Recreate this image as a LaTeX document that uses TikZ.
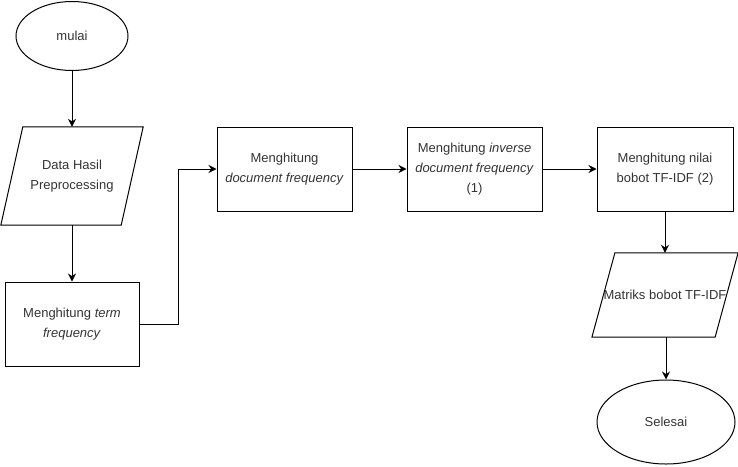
\documentclass[tikz,border=0pt]{standalone}
\usepackage{fontspec}
\setmainfont{Liberation Sans}
\usetikzlibrary{shapes.geometric,arrows.meta}
\definecolor{txt}{HTML}{333333}
\begin{document}
\begin{tikzpicture}[x=1pt,y=-1pt,
  every node/.style={font=\fontsize{13}{20}\selectfont, text=txt, align=center, inner sep=0pt},
  oval/.style={draw, ellipse, line width=1pt},
  box/.style={draw, rectangle, line width=1pt},
  io/.style={rectangle},
  link/.style={line width=1pt, -{Stealth[length=8pt,width=8pt]}},
  plainlink/.style={line width=1pt}]
\useasboundingbox (0,0) rectangle (738,466);
\node[oval, minimum width=112, minimum height=69] (mulai) at (72,36) {mulai};
% Data Hasil Preprocessing
\node[io, minimum width=120, minimum height=98] (data) at (72,176) {Data Hasil\\Preprocessing};
\draw[line width=1pt] ([xshift=11]data.north west) -- ([xshift=11]data.north east) -- ([xshift=-11]data.south east) -- ([xshift=-11]data.south west) -- cycle;
\node[box, minimum width=134, minimum height=84] (term) at (72,324) {Menghitung \textit{term}\\\textit{frequency}};
\node[box, minimum width=135, minimum height=84] (df) at (284.5,169) {Menghitung\\\textit{document frequency}};
\node[box, minimum width=135, minimum height=84] (idf) at (474.5,169) {Menghitung \textit{inverse}\\\textit{document frequency}\\(1)};
\node[box, minimum width=136, minimum height=84] (tfidf) at (665,169) {Menghitung nilai\\bobot TF-IDF (2)};
% Matriks bobot TF-IDF
\node[io, minimum width=122, minimum height=84] (mat) at (665,295) {Matriks bobot TF-IDF};
\draw[line width=1pt] ([xshift=11.5]mat.north west) -- ([xshift=11.5]mat.north east) -- ([xshift=-11.5]mat.south east) -- ([xshift=-11.5]mat.south west) -- cycle;
\node[oval, minimum width=138, minimum height=84] (selesai) at (666,422) {Selesai};
\coordinate (bend) at (178,0);
\draw[link] (mulai) -- (data);
\draw[link] (data) -- (term);
\draw[link] (term.east) -- (term.east -| bend) -- (bend |- df.west) -- (df.west);
\draw[link] (df) -- (idf);
\draw[link] (idf) -- (tfidf);
\draw[link] (tfidf) -- (mat);
\draw[link] (mat.south -| selesai.north) -- (selesai);
\end{tikzpicture}
\end{document}
